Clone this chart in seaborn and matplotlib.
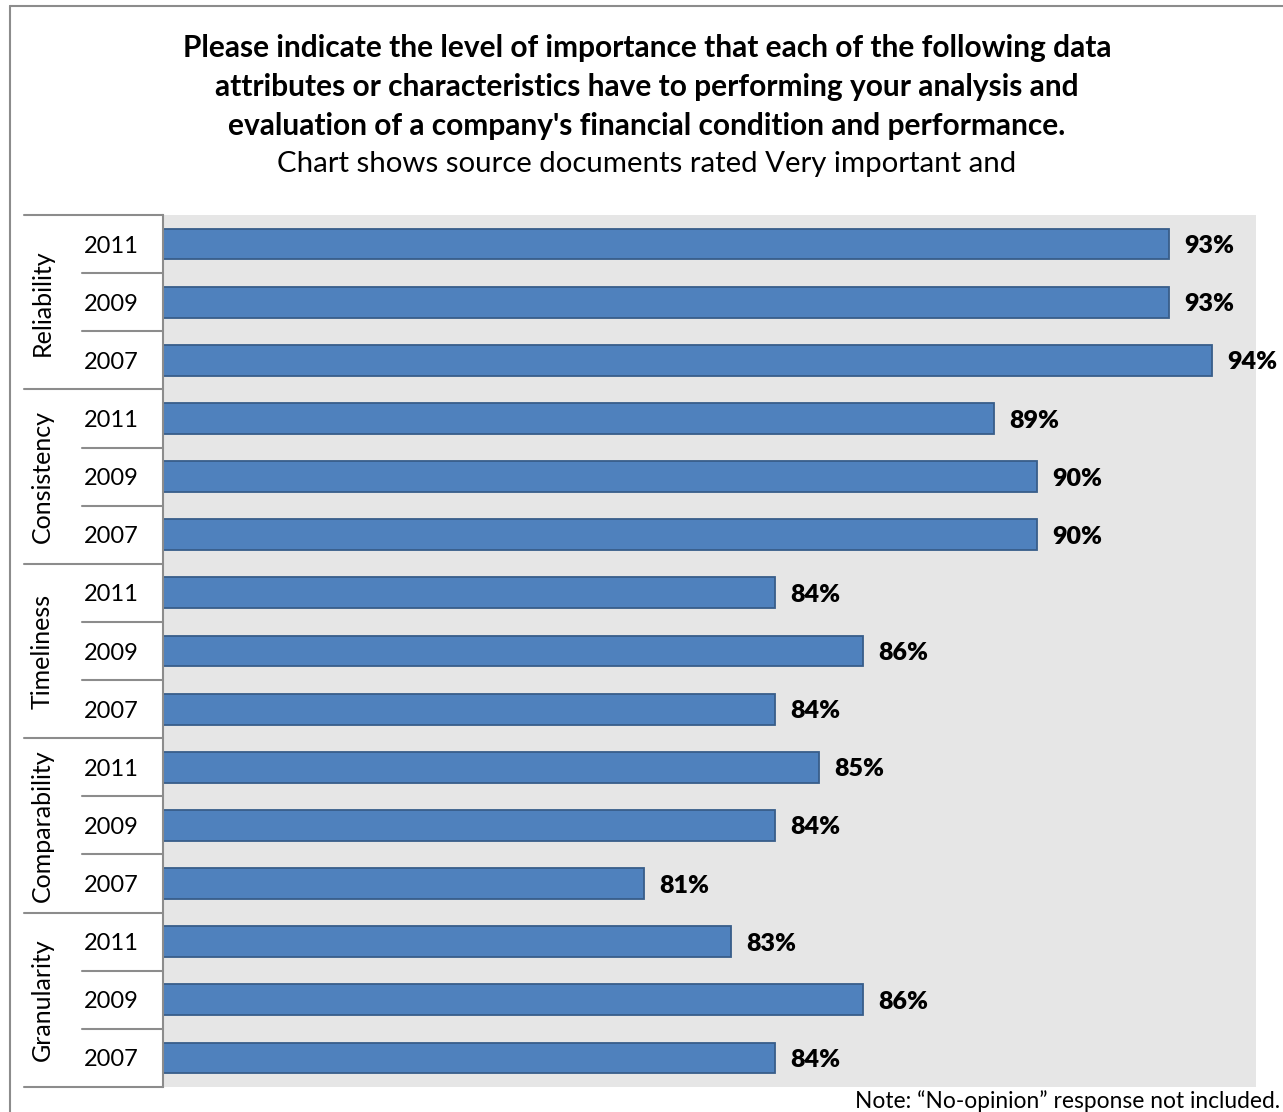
import matplotlib
matplotlib.use("Agg")
import matplotlib.pyplot as plt
import matplotlib.transforms as mtransforms
from matplotlib.lines import Line2D
import seaborn as sns
import pandas as pd

groups = ["Reliability", "Consistency", "Timeliness", "Comparability", "Granularity"]
years = ["2011", "2009", "2007"]
values = [
    [93, 93, 94],   # Reliability
    [89, 90, 90],   # Consistency
    [84, 86, 84],   # Timeliness
    [85, 84, 81],   # Comparability
    [83, 86, 84],   # Granularity
]

title_lines = [
    "Please indicate the level of importance that each of the following data",
    "attributes or characteristics have to performing your analysis and",
    "evaluation of a company's financial condition and performance.",
]
subtitle = "Chart shows source documents rated Very important and"
note = "Note: \u201cNo-opinion\u201d response not included."

rows = []
for g, vals in zip(groups, values):
    for y, v in zip(years, vals):
        rows.append({"row": f"{g} {y}", "group": g, "year": y, "value": v})
df = pd.DataFrame(rows)
order = list(df["row"])

sns.set_theme(style="white")
plt.rcParams["font.family"] = ["Lato", "DejaVu Sans"]

fig = plt.figure(figsize=(12.83, 11.12), dpi=100)
ax = fig.add_axes([163 / 1283, 25 / 1112, (1256 - 163) / 1283, (1087 - 215) / 1112])
ax.set_facecolor("#E6E6E6")

sns.barplot(data=df, y="row", x="value", order=order, orient="h",
            color="#4F81BD", saturation=1, width=0.53,
            edgecolor="#385D8A", linewidth=1.3, ax=ax)

ax.set_xlim(70, 95)
ax.set_ylim(len(order) - 0.5, -0.5)
ax.set_xticks([])
ax.set_yticks([])
ax.set_xlabel("")
ax.set_ylabel("")
for s in ["top", "right", "bottom"]:
    ax.spines[s].set_visible(False)
ax.spines["left"].set_visible(True)
ax.spines["left"].set_color("#8C8C8C")
ax.spines["left"].set_linewidth(1.5)

# data labels
for i, v in enumerate(df["value"]):
    ax.annotate(f"{v}%", xy=(v, i), xytext=(11, -1.5), textcoords="offset points",
                ha="left", va="center", fontsize=18, fontweight="heavy", color="black")

# category table on the left
trans = mtransforms.blended_transform_factory(ax.transAxes, ax.transData)
off = mtransforms.ScaledTranslation(0, -2 / 100, fig.dpi_scale_trans)
x_outer = (24 - 163) / 1093
x_inner = (82 - 163) / 1093
line_kw = dict(color="#8C8C8C", linewidth=1.5, clip_on=False, transform=trans)
n = len(years)
for gi, g in enumerate(groups):
    top = gi * n - 0.5
    ax.plot([x_outer, 0], [top, top], **line_kw)
    for k in range(1, n):
        yy = top + k
        ax.plot([x_inner, 0], [yy, yy], **line_kw)
    ax.text((42 - 163) / 1093, top + n / 2, g, rotation=90, ha="center", va="center",
            fontsize=18, transform=trans, color="black")
    for k, yr in enumerate(years):
        ax.text((111 - 163) / 1093, gi * n + k, yr, ha="center", va="center",
                fontsize=17, transform=trans + off, color="black")
bottom = len(order) - 0.5
ax.plot([x_outer, 0], [bottom, bottom], **line_kw)

# titles
ys = [48, 87, 126]
for t, yy in zip(title_lines, ys):
    fig.text(647 / 1283, 1 - yy / 1112, t, ha="center", va="center",
             fontsize=21.5, fontweight="bold", color="black")
fig.text(647 / 1283, 1 - 164 / 1112, subtitle, ha="center", va="center",
         fontsize=21.2, color="black")
fig.text(1280 / 1283, 1 - 1101 / 1112, note, ha="right", va="center",
         fontsize=16.4, color="black")

# outer frame
fig.add_artist(Line2D([10 / 1283, 10 / 1283], [0, 1 - 6 / 1112], color="#8C8C8C",
                      linewidth=1.5, transform=fig.transFigure))
fig.add_artist(Line2D([10 / 1283, 1], [1 - 6 / 1112, 1 - 6 / 1112], color="#8C8C8C",
                      linewidth=1.5, transform=fig.transFigure))

fig.savefig("out.png", dpi=100, facecolor="white")
